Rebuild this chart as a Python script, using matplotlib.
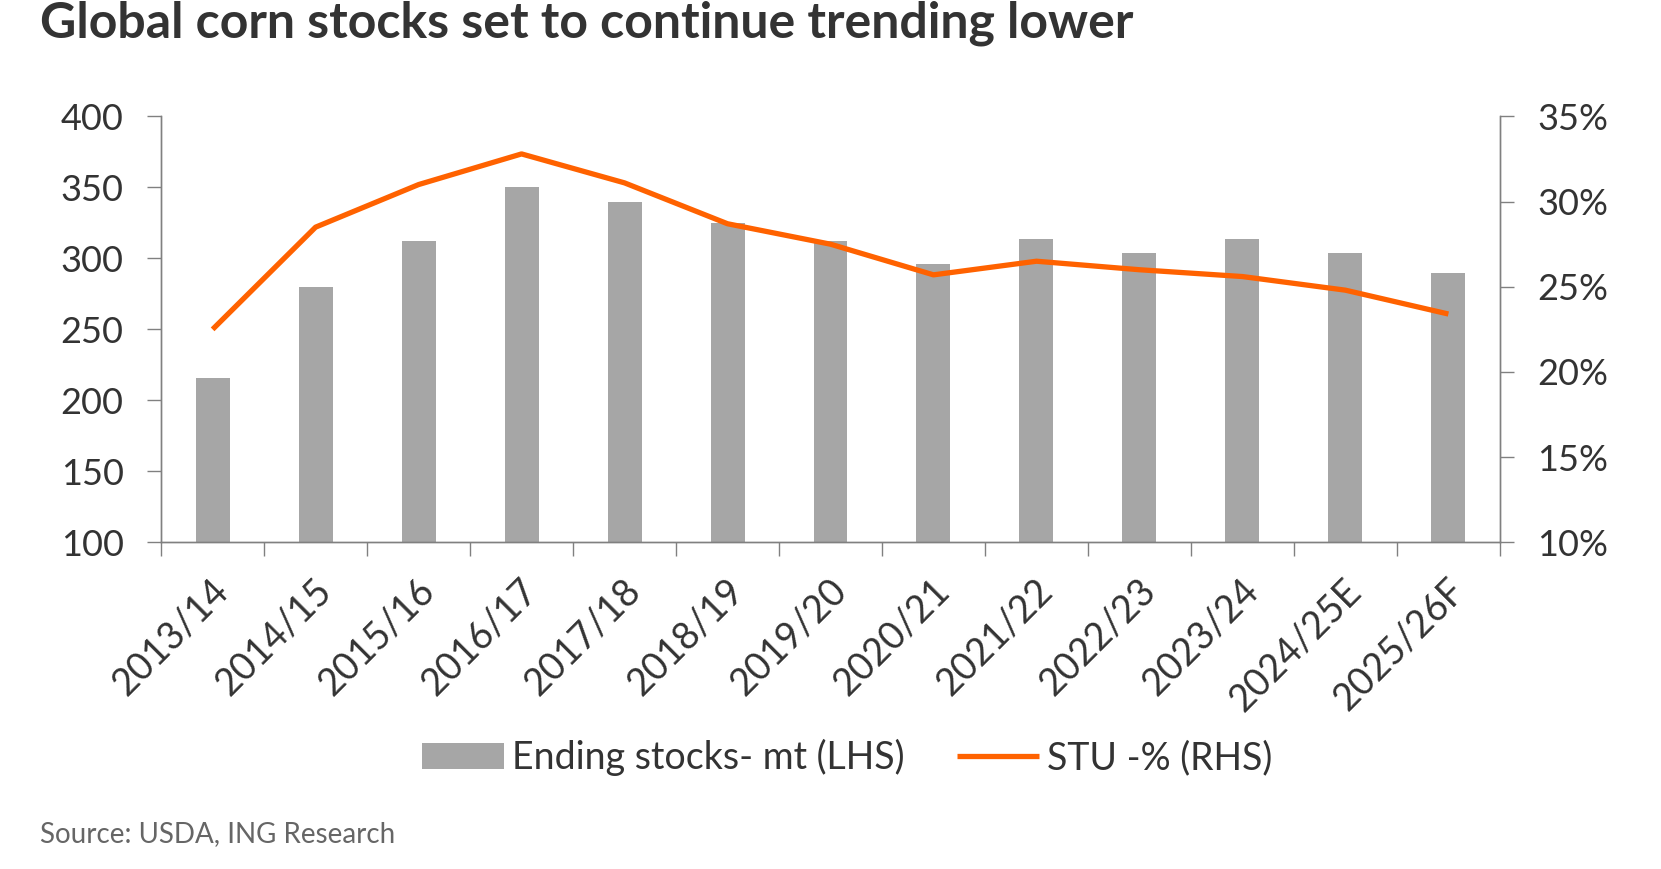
import matplotlib
matplotlib.use("Agg")
import matplotlib.pyplot as plt
import matplotlib.transforms as mtransforms
from matplotlib.ticker import FuncFormatter, MultipleLocator
import numpy as np

categories = ["2013/14", "2014/15", "2015/16", "2016/17", "2017/18", "2018/19",
              "2019/20", "2020/21", "2021/22", "2022/23", "2023/24", "2024/25E", "2025/26F"]
ending_stocks = [216, 280, 312, 350, 340, 325, 312, 296, 314, 304, 314, 304, 290]
stu_pct = [22.5, 28.5, 31.0, 32.8, 31.1, 28.7, 27.5, 25.7, 26.5, 26.0, 25.6, 24.8, 23.4]

FONT = "Lato"
TXT = "#333333"
AX = "#808080"
BAR = "#A6A6A6"
ORANGE = "#FF6200"

fig = plt.figure(figsize=(16.61, 8.69), dpi=100)
ax = fig.add_axes([0.097, 0.376, 0.806, 0.490])
ax2 = ax.twinx()

x = np.arange(len(categories))
bars = ax.bar(x, ending_stocks, width=0.33, color=BAR, label="Ending stocks- mt (LHS)", zorder=2)
line, = ax2.plot(x, stu_pct, color=ORANGE, lw=3.8, solid_capstyle="butt", label="STU -% (RHS)", zorder=3)

ax.set_xlim(-0.5, len(categories) - 0.5)
ax.set_ylim(100, 400)
ax.yaxis.set_major_locator(MultipleLocator(50))
ax2.set_ylim(10, 35)
ax2.yaxis.set_major_locator(MultipleLocator(5))
ax2.yaxis.set_major_formatter(FuncFormatter(lambda v, p: f"{v:.0f}%"))

# x ticks at category boundaries, labels at centers
ax.set_xticks(np.arange(len(categories) + 1) - 0.5)
ax.set_xticklabels([])
ax.set_xticks(x, minor=True)
ax.set_xticklabels(categories, minor=True, rotation=45, ha="right", va="center",
                   rotation_mode="anchor", fontsize=27, color=TXT, family=FONT)
ax.tick_params(axis="x", which="major", length=10, width=1, color=AX, direction="out")
ax.tick_params(axis="x", which="minor", length=0, pad=0)
offset = mtransforms.ScaledTranslation(0.10, -0.43, fig.dpi_scale_trans)
for lab in ax.get_xticklabels(minor=True):
    lab.set_transform(lab.get_transform() + offset)

for a in (ax, ax2):
    a.spines["top"].set_visible(False)
    for s in ("left", "right", "bottom"):
        a.spines[s].set_color(AX)
        a.spines[s].set_linewidth(1)
ax.tick_params(axis="y", length=10, width=1, color=AX, labelsize=26, labelcolor=TXT, pad=17)
ax2.tick_params(axis="y", length=10, width=1, color=AX, labelsize=26, labelcolor=TXT, pad=17)
for lab in ax.get_yticklabels() + ax2.get_yticklabels():
    lab.set_family(FONT)

fig.text(0.024, 0.973, "Global corn stocks set to continue trending lower", fontsize=36,
         fontweight="bold", color=TXT, family=FONT, va="center", ha="left")
fig.text(0.024, 0.040, "Source: USDA, ING Research", fontsize=20, color="#666666",
         family=FONT, va="center", ha="left")

fig.legend(handles=[bars, line], loc="center", bbox_to_anchor=(0.51, 0.128), ncol=2,
           frameon=False, prop={"family": FONT, "size": 27}, handlelength=2.2,
           handletextpad=0.2, columnspacing=1.4, labelcolor=TXT)

fig.savefig("out.png", dpi=100)
